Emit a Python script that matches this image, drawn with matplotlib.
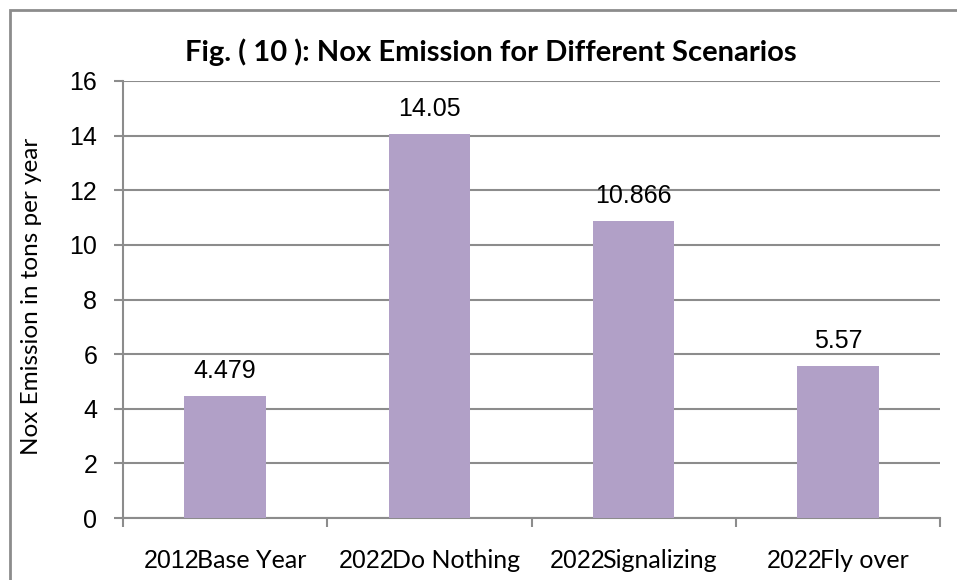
import matplotlib
matplotlib.use('Agg')
from matplotlib import pyplot as plt
from matplotlib.patches import Rectangle

years = ['2012', '2022', '2022', '2022']
names = ['Base Year', 'Do Nothing', 'Signalizing', 'Fly over']
emission = [4.479, 14.05, 10.866, 5.57]
value_labels = ['4.479', '14.05', '10.866', '5.57']
yticks = [0, 2, 4, 6, 8, 10, 12, 14, 16]

W, H = 957, 580
fig = plt.figure(figsize=(W / 100, H / 100), dpi=100)
ax = fig.add_axes([123 / W, (H - 518) / H, (940 - 123) / W, (518 - 81) / H])

grey = '#8c8c8c'
bar_color = '#b1a0c7'

# outer chart border (only top and left fit in the image)
fig.patches.append(Rectangle((10 / W, -0.1), 1.2, (H - 10) / H + 0.1, transform=fig.transFigure,
                             fill=False, edgecolor=grey, linewidth=2))

x = list(range(len(emission)))
ax.bar(x, emission, width=0.4, color=bar_color, zorder=3)
for xi, v, s in zip(x, emission, value_labels):
    ax.annotate(s, (xi, v), xytext=(0, 13), textcoords='offset points', ha='center', va='baseline',
                fontsize=18, family='Liberation Sans')

ax.set_xlim(-0.5, 3.5)
ax.set_ylim(0, 16)
ax.set_yticks(yticks)
ax.set_yticklabels([str(t) for t in yticks], fontsize=18, family='Liberation Sans')
ax.set_xticks([-0.5, 0.5, 1.5, 2.5, 3.5])
ax.set_xticklabels([])
ax.yaxis.grid(True, color=grey, linewidth=1.5)
ax.set_axisbelow(True)
for sp in ['top', 'right']:
    ax.spines[sp].set_visible(False)
for sp in ['left', 'bottom']:
    ax.spines[sp].set_color(grey)
    ax.spines[sp].set_linewidth(1.5)
ax.tick_params(axis='both', colors=grey, length=6.5, width=1.5)
ax.tick_params(axis='y', labelcolor='black', pad=12)

fig.text(32 / W, (H - 296) / H, 'Nox Emission in tons per year', rotation=90,
         ha='center', va='center', fontsize=17.5, family='Lato')

fig.text(491 / W, (H - 61) / H, 'Fig. ( 10 ): Nox Emission for Different Scenarios',
         ha='center', va='baseline', fontsize=21, fontweight='bold', family='Lato')

# category labels: year in Arial-like font, name in Calibri-like font
fig.canvas.draw()
r = fig.canvas.get_renderer()
for xi, yr, nm in zip(x, years, names):
    t1 = ax.annotate(yr, (xi, 0), xycoords=('data', 'axes fraction'), xytext=(0, -36),
                     textcoords='offset points', ha='left', va='baseline', fontsize=18, family='Liberation Sans')
    t2 = ax.annotate(nm, (xi, 0), xycoords=('data', 'axes fraction'), xytext=(0, -36),
                     textcoords='offset points', ha='left', va='baseline', fontsize=18, family='Lato')
    w1 = t1.get_window_extent(r).width - 3
    w2 = t2.get_window_extent(r).width
    start = -(w1 + w2) / 2 * 72 / 100
    t1.set_position((start, -36))
    t2.set_position((start + w1 * 72 / 100, -36))

fig.savefig('out.png', dpi=100)
